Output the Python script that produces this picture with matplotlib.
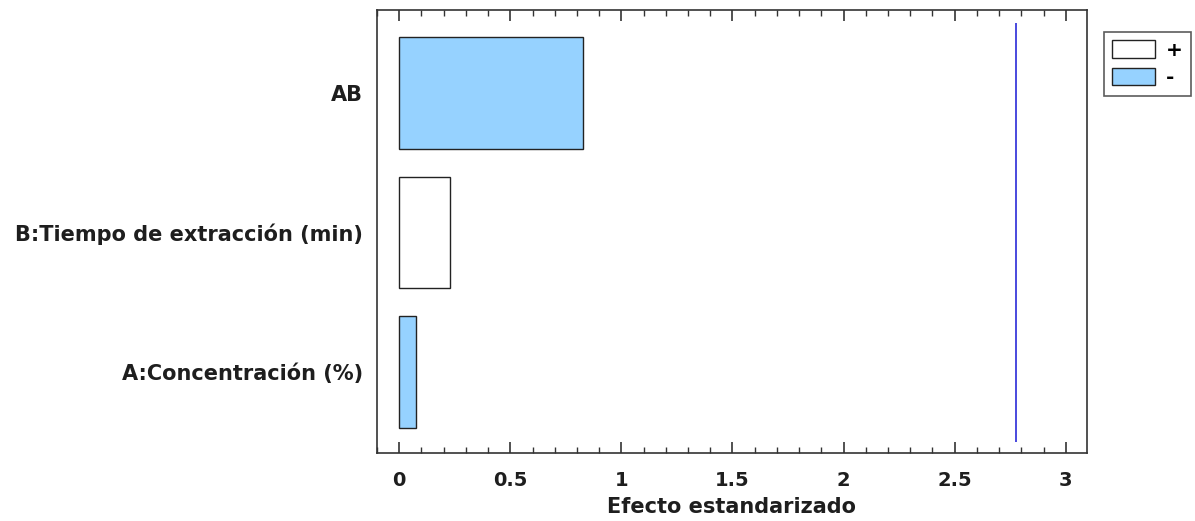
import matplotlib
matplotlib.use("Agg")
import matplotlib.pyplot as plt
from matplotlib.patches import Patch
from matplotlib.ticker import MultipleLocator

plt.rcParams['font.family'] = ['DejaVu Sans']

categories = ['A:Concentración (%)', 'B:Tiempo de extracción (min)', 'AB']
effects = [0.076, 0.229, 0.828]
signs = ['-', '+', '-']
critical_value = 2.776
x_ticks = [0, 0.5, 1, 1.5, 2, 2.5, 3]
x_tick_labels = ['0', '0.5', '1', '1.5', '2', '2.5', '3']

color_pos = 'white'
color_neg = '#96d2ff'
text_color = '#1e1e1e'

fig = plt.figure(figsize=(11.95, 5.21), dpi=100)
ax = fig.add_axes([0.3155, 0.1305, 0.594, 0.8503])

ypos = list(range(len(categories)))
colors = [color_pos if s == '+' else color_neg for s in signs]
ax.barh(ypos, effects, height=0.8, color=colors, edgecolor='#222222', linewidth=1.0)
ax.vlines(critical_value, -0.5, 2.5, color='#2a2ad8', linewidth=1.2)

ax.set_xlim(-0.1, 3.095)
ax.set_ylim(-0.58, 2.595)
ax.set_yticks(ypos)
ax.set_yticklabels(categories, fontsize=15, fontweight='bold', color=text_color)
ax.tick_params(axis='y', length=0, pad=10)

ax.set_xticks(x_ticks)
ax.set_xticklabels(x_tick_labels, fontsize=14, fontweight='bold', color=text_color)
ax.xaxis.set_minor_locator(MultipleLocator(0.1))
ax.tick_params(axis='x', which='major', direction='in', length=8, width=1.2,
               top=True, bottom=True, pad=13, color='#333333')
ax.tick_params(axis='x', which='minor', direction='in', length=4, width=1.0,
               top=True, bottom=True, color='#333333')
ax.set_xlabel('Efecto estandarizado', fontsize=15, fontweight='bold', color=text_color, labelpad=5)

for sp in ax.spines.values():
    sp.set_linewidth(1.2)
    sp.set_color('#333333')

handles = [Patch(facecolor=color_pos, edgecolor='#222222', label='+'),
           Patch(facecolor=color_neg, edgecolor='#222222', label='-')]
leg = fig.legend(handles=handles, loc='upper left', bbox_to_anchor=(0.9238, 0.9386),
                 frameon=True, fancybox=False, edgecolor='#333333',
                 prop={'weight': 'bold', 'size': 14.5}, handlelength=2.1, handleheight=0.95,
                 borderpad=0.42, labelspacing=0.38, handletextpad=0.55, borderaxespad=0)
leg.get_frame().set_linewidth(1.2)

fig.savefig('out.png', dpi=100)
